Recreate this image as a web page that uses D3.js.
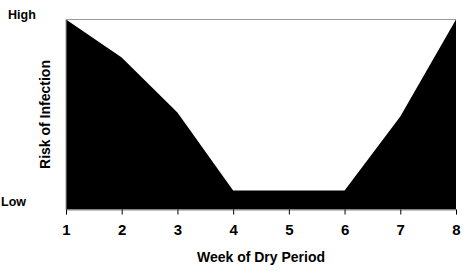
<!DOCTYPE html>
<html>
<head>
<meta charset="utf-8">
<script src="https://cdn.jsdelivr.net/npm/d3@7"></script>
<style>
  body { margin: 0; background: #fff; }
  text { font-family: "Liberation Sans", Arial, sans-serif; font-weight: bold; fill: #000; }
</style>
</head>
<body>
<div class="chart"></div>
<script>
// data
var weeks = [1, 2, 3, 4, 5, 6, 7, 8];
var risk = [10, 8.0, 5.1, 1.0, 1.0, 1.0, 4.9, 10];
var riskLabels = ["Low", "High"];

var svgWidth = 469;
var svgHeight = 273;

var margin = { top: 19.5, right: 13, bottom: 63.5, left: 66 };
var width = svgWidth - margin.left - margin.right;
var height = svgHeight - margin.top - margin.bottom;

var svg = d3.select(".chart")
    .append("svg")
    .attr("width", svgWidth)
    .attr("height", svgHeight);

var chartGroup = svg.append("g")
    .attr("transform", `translate(${margin.left}, ${margin.top})`);

var x = d3.scaleLinear()
    .domain([1, 8])
    .range([0, width]);

var y = d3.scaleLinear()
    .domain([0, 10])
    .range([height, 0]);

var dataSet = weeks.map((w, i) => ({ week: w, risk: risk[i] }));

// filled area
var area = d3.area()
    .x(d => x(d.week))
    .y0(y(0))
    .y1(d => y(d.risk));

chartGroup.append("path")
    .datum(dataSet)
    .attr("d", area)
    .attr("fill", "#000");

// top + left border of plot area
chartGroup.append("line")
    .attr("x1", 0).attr("x2", width)
    .attr("y1", 0).attr("y2", 0)
    .attr("stroke", "#999").attr("stroke-width", 1);
chartGroup.append("line")
    .attr("x1", 0).attr("x2", 0)
    .attr("y1", 0).attr("y2", height)
    .attr("stroke", "#999").attr("stroke-width", 1);

// x axis
var bottomAxis = d3.axisBottom(x)
    .tickValues(weeks)
    .tickFormat(d3.format("d"))
    .tickSizeInner(5)
    .tickSizeOuter(5)
    .tickPadding(10);

var xAxisG = chartGroup.append("g")
    .attr("transform", `translate(0, ${height})`)
    .call(bottomAxis);
xAxisG.select(".domain").attr("stroke", "#888");
xAxisG.selectAll(".tick line").attr("stroke", "#000");
xAxisG.selectAll(".tick text")
    .style("font-size", "15px")
    .style("font-family", "Liberation Sans, Arial, sans-serif")
    .style("font-weight", "bold")
    .attr("fill", "#000");

// y labels High / Low
chartGroup.append("text")
    .attr("x", -58)
    .attr("y", y(10))
    .attr("dy", "-1px")
    .style("font-size", "12.5px")
    .text(riskLabels[1]);

chartGroup.append("text")
    .attr("x", -65)
    .attr("y", y(0))
    .attr("dy", "-4px")
    .style("font-size", "12.5px")
    .text(riskLabels[0]);

// axis titles
chartGroup.append("text")
    .attr("transform", "rotate(-90)")
    .attr("x", -height / 2)
    .attr("y", -margin.left + 50)
    .attr("text-anchor", "middle")
    .style("font-size", "14px")
    .text("Risk of Infection");

chartGroup.append("text")
    .attr("x", width / 2)
    .attr("y", height + 52)
    .attr("text-anchor", "middle")
    .style("font-size", "14px")
    .text("Week of Dry Period");
</script>
</body>
</html>
